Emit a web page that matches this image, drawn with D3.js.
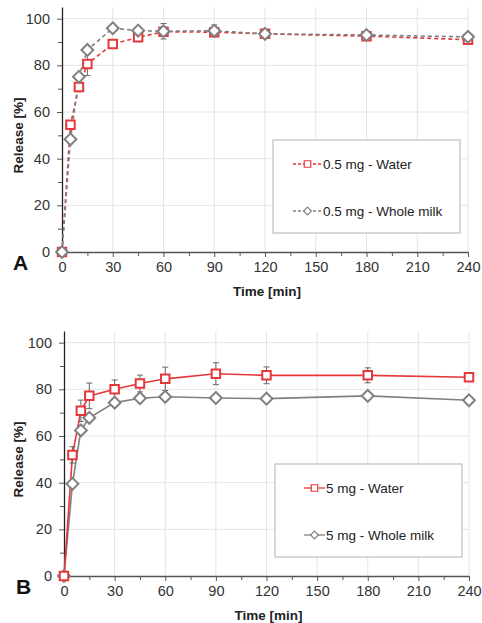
<!DOCTYPE html>
<html lang="en">
<head>
  <meta charset="UTF-8">
  <title>Release profiles</title>
  <script src="https://d3js.org/d3.v7.min.js"></script>
  <style>
    body { margin: 0; background: #fff; }
    text { font-family: "Liberation Sans", Arial, sans-serif; }
  </style>
</head>
<body>
  <script>
    // sampling times (min)
    const times = [0, 5, 10, 15, 30, 45, 60, 90, 120, 180, 240];

    // panel A: 0.5 mg
    const waterA = [0, 54.5, 70.7, 80.6, 89.1, 92.0, 94.4, 94.2, 93.5, 92.5, 91.0];
    const waterAErr = [0, 1.5, 2, 5, 1, 1, 1.5, 1.5, 0.8, 0.8, 1];
    const milkA = [0, 48.3, 75.1, 86.6, 95.9, 94.9, 94.6, 94.8, 93.5, 93.0, 92.2];
    const milkAErr = [0, 1, 1, 1, 1, 1, 3.3, 2.5, 1, 1, 1];

    // panel B: 5 mg
    const waterB = [0, 51.9, 70.8, 77.2, 80.0, 82.5, 84.5, 86.7, 86.0, 86.0, 85.2];
    const waterBErr = [0, 3.5, 4.6, 5.5, 4, 3.6, 5, 4.7, 3.6, 3.2, 1];
    const milkB = [0, 39.5, 62.4, 67.8, 74.3, 76.2, 76.8, 76.3, 76.0, 77.2, 75.3];
    const milkBErr = [0, 1, 1, 1, 1, 1, 1, 1, 1, 1, 1];

    const xTicks = [0, 30, 60, 90, 120, 150, 180, 210, 240];
    const yTicks = [0, 20, 40, 60, 80, 100];

    const red = '#e5383b';
    const grey = '#808080';

    const svg = d3.select('body').append('svg')
      .attr('width', 482)
      .attr('height', 623);

    // square diamond (rotated square), width == height
    const diamond = {
      draw(ctx, size) {
        const r = Math.sqrt(size / 2);
        ctx.moveTo(0, -r);
        ctx.lineTo(r, 0);
        ctx.lineTo(0, r);
        ctx.lineTo(-r, 0);
        ctx.closePath();
      }
    };

    function drawPanel(p) {
      const x = d3.scaleLinear().domain([0, 240]).range([p.left, p.right]);
      const y = d3.scaleLinear().domain([0, 105]).range([p.bottom, p.top]);
      const g = svg.append('g');

      // grid
      g.append('g').selectAll('line')
        .data(xTicks.slice(1))
        .enter().append('line')
        .attr('x1', d => x(d)).attr('x2', d => x(d))
        .attr('y1', y(0)).attr('y2', y(105))
        .attr('stroke', '#e4e4e4');
      g.append('g').selectAll('line')
        .data(yTicks.slice(1))
        .enter().append('line')
        .attr('x1', x(0)).attr('x2', x(240))
        .attr('y1', d => y(d)).attr('y2', d => y(d))
        .attr('stroke', '#e4e4e4');

      // axes
      g.append('g')
        .attr('transform', `translate(0,${y(0)})`)
        .call(d3.axisBottom(x).tickValues(xTicks).tickSize(5).tickPadding(5).tickSizeOuter(0));
      g.append('g')
        .attr('transform', `translate(0,${y(0)})`)
        .call(d3.axisBottom(x).tickValues(d3.range(15, 240, 30)).tickSize(4).tickFormat('').tickSizeOuter(0))
        .call(s => s.select('.domain').remove());
      const yAxis = g.append('g')
        .attr('transform', `translate(${x(0)},0)`)
        .call(d3.axisLeft(y).tickValues(yTicks).tickSize(5).tickPadding(7).tickSizeOuter(0));
      g.append('g')
        .attr('transform', `translate(${x(0)},0)`)
        .call(d3.axisLeft(y).tickValues([10, 30, 50, 70, 90]).tickSize(4).tickFormat('').tickSizeOuter(0))
        .call(s => s.select('.domain').remove());

      g.selectAll('.domain').attr('stroke', '#555').attr('stroke-width', 1.3);
      g.selectAll('.tick line').attr('stroke', '#555');
      g.selectAll('.tick text')
        .attr('font-size', 14.5)
        .attr('fill', '#333')
        .attr('font-family', '"Liberation Sans", Arial, sans-serif');
      yAxis.select('.domain').attr('stroke', '#222');

      // titles
      g.append('text')
        .attr('x', (p.left + p.right) / 2 + 2)
        .attr('y', p.bottom + 44)
        .attr('text-anchor', 'middle')
        .attr('font-size', 13.5).attr('font-weight', 'bold').attr('fill', '#222')
        .text('Time [min]');
      g.append('text')
        .attr('transform', `translate(23,${(y(0) + y(105)) / 2 + 6}) rotate(-90)`)
        .attr('text-anchor', 'middle')
        .attr('font-size', 13.5).attr('font-weight', 'bold').attr('fill', '#222')
        .text('Release [%]');
      g.append('text')
        .attr('x', p.letterX)
        .attr('y', p.bottom + 18)
        .attr('font-size', 21).attr('font-weight', 'bold').attr('fill', '#111')
        .text(p.letter);

      const dash = p.dashed ? '4,3' : null;
      const series = [
        { vals: p.water, err: p.waterErr, color: red, shape: 'square', label: p.labels[0] },
        { vals: p.milk, err: p.milkErr, color: grey, shape: 'diamond', label: p.labels[1] }
      ];
      const drawOrder = p.milkOnTop ? series : series.slice().reverse();

      const line = d3.line().x(d => x(d[0])).y(d => y(d[1]));

      // lines
      drawOrder.forEach(s => {
        g.append('path')
          .datum(times.map((t, i) => [t, s.vals[i]]))
          .attr('d', line)
          .attr('fill', 'none')
          .attr('stroke', s.color)
          .attr('stroke-width', 1.6)
          .attr('stroke-dasharray', dash);
      });

      // error bars
      series.forEach(s => {
        const eb = g.append('g').attr('stroke', '#666').attr('stroke-width', 1);
        times.forEach((t, i) => {
          if (!s.err[i]) return;
          const cx = x(t);
          const y1 = y(s.vals[i] - s.err[i]);
          const y2 = y(s.vals[i] + s.err[i]);
          eb.append('line').attr('x1', cx).attr('x2', cx).attr('y1', y1).attr('y2', y2);
          eb.append('line').attr('x1', cx - 3).attr('x2', cx + 3).attr('y1', y1).attr('y2', y1);
          eb.append('line').attr('x1', cx - 3).attr('x2', cx + 3).attr('y1', y2).attr('y2', y2);
        });
      });

      // markers
      const symSquare = d3.symbol().type(d3.symbolSquare).size(72);
      const symDiamond = d3.symbol().type(diamond).size(70);
      drawOrder.forEach(s => {
        g.append('g').selectAll('path')
          .data(times.map((t, i) => [t, s.vals[i]]))
          .enter().append('path')
          .attr('d', s.shape === 'square' ? symSquare : symDiamond)
          .attr('transform', d => `translate(${x(d[0])},${y(d[1])})`)
          .attr('fill', '#fff')
          .attr('stroke', s.color)
          .attr('stroke-width', 2);
      });

      // legend
      const lg = g.append('g');
      lg.append('rect')
        .attr('x', p.legend.x).attr('y', p.legend.y)
        .attr('width', p.legend.w).attr('height', p.legend.h)
        .attr('fill', '#fff').attr('stroke', '#bfbfbf').attr('stroke-width', 1.2);
      series.forEach((s, i) => {
        const ly = p.legend.y + 24 + i * 47;
        lg.append('line')
          .attr('x1', p.legend.sx1).attr('x2', p.legend.sx2)
          .attr('y1', ly).attr('y2', ly)
          .attr('stroke', s.color).attr('stroke-width', 1.3)
          .attr('stroke-dasharray', p.dashed ? '3,2' : null);
        lg.append('path')
          .attr('d', d3.symbol().type(s.shape === 'square' ? d3.symbolSquare : diamond).size(s.shape === 'square' ? 42 : 30))
          .attr('transform', `translate(${(p.legend.sx1 + p.legend.sx2) / 2},${ly})`)
          .attr('fill', '#fff').attr('stroke', s.color).attr('stroke-width', 1.2);
        lg.append('text')
          .attr('x', p.legend.sx2 + 1)
          .attr('y', ly + 5)
          .attr('font-size', 13.5).attr('fill', '#222')
          .text(s.label);
      });
    }

    drawPanel({
      left: 62, right: 468, top: 7, bottom: 252,
      letter: 'A', letterX: 13, dashed: true, milkOnTop: true,
      water: waterA, waterErr: waterAErr, milk: milkA, milkErr: milkAErr,
      labels: ['0.5 mg - Water', '0.5 mg - Whole milk'],
      legend: { x: 273, y: 140, w: 187, h: 93, sx1: 293, sx2: 322 }
    });

    drawPanel({
      left: 64, right: 469, top: 331, bottom: 576,
      letter: 'B', letterX: 16, dashed: false, milkOnTop: false,
      water: waterB, waterErr: waterBErr, milk: milkB, milkErr: milkBErr,
      labels: ['5 mg - Water', '5 mg - Whole milk'],
      legend: { x: 275, y: 464, w: 187, h: 93, sx1: 304, sx2: 325 }
    });
  </script>
</body>
</html>
